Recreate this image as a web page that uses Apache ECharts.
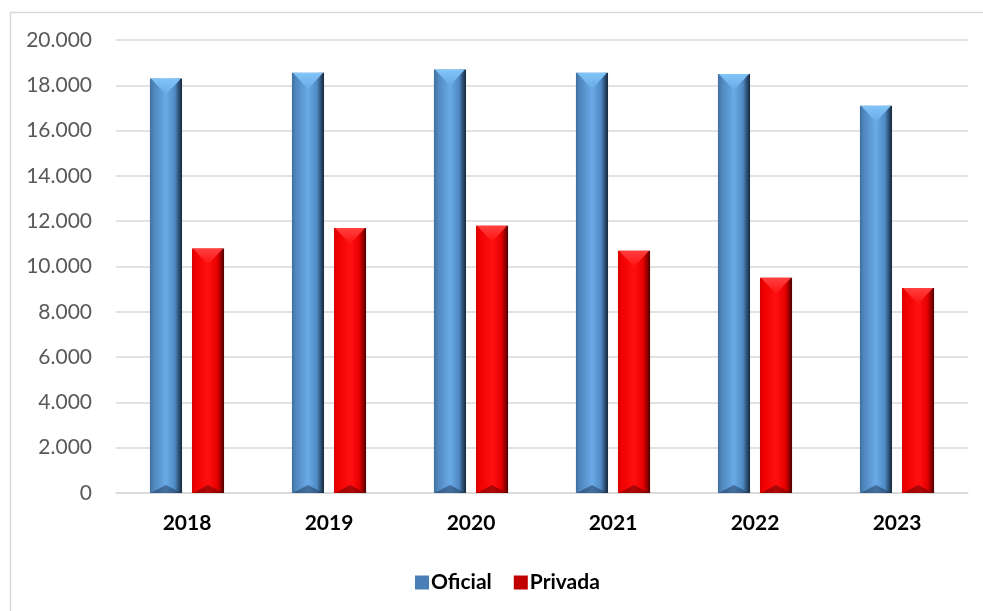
<!DOCTYPE html>
<html>
<head>
<meta charset="utf-8">
<script src="https://cdn.jsdelivr.net/npm/echarts@6/dist/echarts.min.js"></script>
<style>html,body{margin:0;padding:0;background:#fff}#c{width:983px;height:611px}</style>
</head>
<body>
<div id="c"></div>
<script>
var categories = ['2018', '2019', '2020', '2021', '2022', '2023'];
var oficial = [18300, 18550, 18700, 18550, 18500, 17100];
var privada = [10800, 11700, 11800, 10700, 9500, 9050];
var yTicks = [0, 2000, 4000, 6000, 8000, 10000, 12000, 14000, 16000, 18000, 20000];

var FONT = 'Lato';
var chart = echarts.init(document.getElementById('c'), null, {renderer: 'canvas'});

function grad(stops) {
  return new echarts.graphic.LinearGradient(0, 0, 1, 0, stops.map(function (s) { return {offset: s[0], color: s[1]}; }));
}
var styles = [
  {
    body: [[0, '#3f6f9f'], [0.12, '#4f86bd'], [0.5, '#6aaae6'], [0.78, '#4f8ac4'], [0.9, '#2e5074'], [1, '#16283b']],
    top: '#80c4f8', bottom: 'rgba(20,40,70,0.45)', legend: '#4a7fb5'
  },
  {
    body: [[0, '#d40000'], [0.12, '#f00000'], [0.5, '#ff1010'], [0.78, '#e80000'], [0.9, '#9a0000'], [1, '#4a0000']],
    top: '#ff4040', bottom: 'rgba(90,0,0,0.5)', legend: '#c00000'
  }
];

function makeRender(idx) {
  return function (params, api) {
    var cat = api.value(0), val = api.value(1);
    var top = api.coord([cat, val]);
    var base = api.coord([cat, 0]);
    var band = api.size([1, 0])[0];
    var w = band * 0.226;
    var gap = band * 0.07;
    var cx = top[0];
    var x0 = idx === 0 ? cx - gap / 2 - w : cx + gap / 2;
    var yT = top[1], yB = base[1];
    var d = Math.min(w * 0.5, (yB - yT) / 2);
    var db = Math.min(w * 0.25, (yB - yT) / 2);
    var st = styles[idx];
    return {
      type: 'group',
      children: [
        {type: 'rect', shape: {x: x0, y: yT, width: w, height: yB - yT}, style: {fill: grad(st.body)}},
        {type: 'polygon', shape: {points: [[x0 + 1, yT], [x0 + w - 1, yT], [x0 + w / 2, yT + d]]},
          style: {fill: new echarts.graphic.LinearGradient(0, 0, 0, 1, [{offset: 0, color: st.top}, {offset: 1, color: st.body[2][1]}])}},
        {type: 'polygon', shape: {points: [[x0 + 1, yB], [x0 + w - 1, yB], [x0 + w / 2, yB - db]]},
          style: {fill: st.bottom}}
      ]
    };
  };
}

var option = {
  backgroundColor: '#ffffff',
  animation: false,
  graphic: [{
    type: 'rect', left: 8, top: 10, silent: true,
    shape: {width: 1000, height: 700},
    style: {fill: 'none', stroke: '#d9d9d9', lineWidth: 1.5}
  }],
  grid: {left: 116, right: 15, top: 40, bottom: 118, containLabel: false},
  legend: {
    left: 410, top: 567,
    itemWidth: 14, itemHeight: 14, itemGap: 22,
    textStyle: {fontFamily: FONT, fontSize: 21, fontWeight: 'bold', color: '#000', padding: [0, 0, 0, -3]},
    data: [
      {name: 'Oficial', icon: 'rect', itemStyle: {color: styles[0].legend}},
      {name: 'Privada', icon: 'rect', itemStyle: {color: styles[1].legend}}
    ]
  },
  xAxis: {
    type: 'category', data: categories,
    axisLine: {show: true, lineStyle: {color: '#d9d9d9', width: 1.5}},
    axisTick: {show: false},
    axisLabel: {fontFamily: FONT, fontSize: 21, fontWeight: 'bold', color: '#000', margin: 20}
  },
  yAxis: {
    type: 'value', min: 0, max: 20000, interval: 2000,
    axisLine: {show: false}, axisTick: {show: false},
    splitLine: {lineStyle: {color: '#d9d9d9', width: 1.5}},
    axisLabel: {
      fontFamily: FONT, fontSize: 21, color: '#595959', margin: 24,
      formatter: function (v) { return yTicks.indexOf(v) >= 0 ? v.toLocaleString('de-DE') : ''; }
    }
  },
  series: [
    {name: 'Oficial', type: 'custom', renderItem: makeRender(0), itemStyle: {color: styles[0].legend},
      encode: {x: 0, y: 1}, data: categories.map(function (c, i) { return [i, oficial[i]]; }), z: 3},
    {name: 'Privada', type: 'custom', renderItem: makeRender(1), itemStyle: {color: styles[1].legend},
      encode: {x: 0, y: 1}, data: categories.map(function (c, i) { return [i, privada[i]]; }), z: 3}
  ]
};
chart.setOption(option);
</script>
</body>
</html>
